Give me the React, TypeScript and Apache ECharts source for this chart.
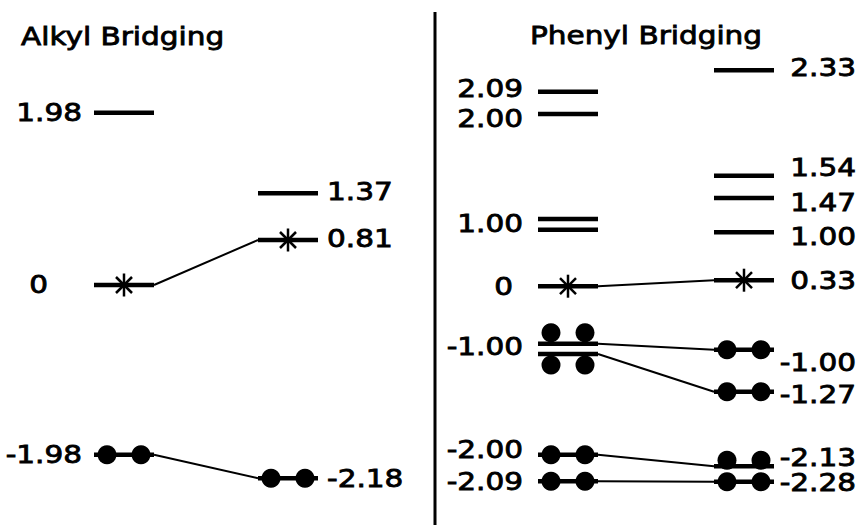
import React, { useEffect, useRef } from "react";
import * as echarts from "echarts";

// ---------- Alkyl bridging (left panel) ----------
const alkylLevelColumn = [0, 0, 0, 1, 1, 1];
const alkylLevelHeight = [2.87, 0, -2.83, 1.53, 0.75, -3.22];
const alkylLevelMarker = ["none", "star", "dots", "none", "star", "dots"];
const alkylLinks = [
  [1, 4],
  [2, 5],
];
const alkylLabelText = ["1.98", "0", "-1.98", "1.37", "0.81", "-2.18"];
const alkylLabelColumn = [0, 0, 0, 1, 1, 1];
const alkylLabelHeight = [2.87, 0, -2.83, 1.55, 0.78, -3.22];

// ---------- Phenyl bridging (right panel) ----------
const phenylLevelColumn = [0, 0, 0, 0, 0, 0, 0, 0, 0, 1, 1, 1, 1, 1, 1, 1, 1, 1];
const phenylLevelHeight = [
  3.22, 2.85, 1.1, 0.92, -0.02, -0.98, -1.15, -2.83, -3.27,
  3.58, 1.82, 1.45, 0.88, 0.08, -1.08, -1.78, -3.02, -3.28,
];
const phenylLevelMarker = [
  "none", "none", "none", "none", "star", "dotsAbove", "dotsBelow", "dots", "dots",
  "none", "none", "none", "none", "star", "dots", "dots", "dotsRaised", "dots",
];
const phenylLinks = [
  [4, 13],
  [5, 14],
  [6, 15],
  [7, 16],
  [8, 17],
];
const phenylLabelText = [
  "2.09", "2.00", "1.00", "0", "-1.00", "-2.00", "-2.09",
  "2.33", "1.54", "1.47", "1.00", "0.33", "-1.00", "-1.27", "-2.13", "-2.28",
];
const phenylLabelColumn = [0, 0, 0, 0, 0, 0, 0, 1, 1, 1, 1, 1, 1, 1, 1, 1];
const phenylLabelHeight = [
  3.28, 2.78, 1.03, -0.03, -1.02, -2.75, -3.27,
  3.63, 1.95, 1.38, 0.8, 0.07, -1.3, -1.83, -2.87, -3.3,
];

const panelTitles = ["Alkyl Bridging", "Phenyl Bridging"];

// ---------- styles ----------
const INK = "#000";
const HALF = 30; // half width of a level bar (px)
const FONT = '24px "DejaVu Sans"';
const TEXT_SCALE = 1.23;
const TEXT_STROKE = 0.8;
const DOT_R = 9.5;
const DOT_DX = 17;
const dotShift: Record<string, number> = { dots: 0, dotsAbove: -11, dotsBelow: 11, dotsRaised: -6 };

function levelRenderer(markers: string[]) {
  return (params: any, api: any) => {
    const p = api.coord([api.value(0), api.value(1)]);
    const cx = p[0];
    const cy = p[1];
    const children: any[] = [
      {
        type: "line",
        shape: { x1: cx - HALF, y1: cy, x2: cx + HALF, y2: cy },
        style: { stroke: INK, lineWidth: 4.5 },
      },
    ];
    const m = markers[params.dataIndex];
    if (m === "star") {
      const r = 11.5;
      const d = 8;
      children.push(
        { type: "line", shape: { x1: cx, y1: cy - r, x2: cx, y2: cy + r }, style: { stroke: INK, lineWidth: 2.5 } },
        { type: "line", shape: { x1: cx - r, y1: cy, x2: cx + r, y2: cy }, style: { stroke: INK, lineWidth: 2.5 } },
        { type: "line", shape: { x1: cx - d, y1: cy - d, x2: cx + d, y2: cy + d }, style: { stroke: INK, lineWidth: 2.5 } },
        { type: "line", shape: { x1: cx - d, y1: cy + d, x2: cx + d, y2: cy - d }, style: { stroke: INK, lineWidth: 2.5 } }
      );
    } else if (m in dotShift) {
      const dy = dotShift[m];
      children.push(
        { type: "circle", shape: { cx: cx - DOT_DX, cy: cy + dy, r: DOT_R }, style: { fill: INK } },
        { type: "circle", shape: { cx: cx + DOT_DX, cy: cy + dy, r: DOT_R }, style: { fill: INK } }
      );
    }
    return { type: "group", children };
  };
}

function linkRenderer() {
  return (_params: any, api: any) => {
    const a = api.coord([api.value(0), api.value(1)]);
    const b = api.coord([api.value(2), api.value(3)]);
    return {
      type: "line",
      shape: { x1: a[0] + HALF, y1: a[1], x2: b[0] - HALF, y2: b[1] },
      style: { stroke: INK, lineWidth: 2 },
    };
  };
}

function labelRenderer(
  texts: string[],
  leftGap: number,
  zeroGap: number,
  rightAlign: "left" | "right",
  rightGap: number
) {
  return (params: any, api: any) => {
    const p = api.coord([api.value(0), api.value(1)]);
    const text = texts[params.dataIndex];
    const col = api.value(0);
    let x: number;
    let align: string;
    if (col === 0) {
      x = p[0] - HALF - (text === "0" ? zeroGap : leftGap);
      align = "right";
    } else {
      x = p[0] + HALF + rightGap;
      align = rightAlign;
    }
    return {
      type: "text",
      x,
      y: p[1],
      scaleX: TEXT_SCALE,
      style: {
        text,
        fill: INK,
        stroke: INK,
        lineWidth: TEXT_STROKE,
        font: FONT,
        align,
        verticalAlign: "middle",
        textAlign: align,
        textVerticalAlign: "middle",
      },
    };
  };
}

export default function App() {
  const ref = useRef<HTMLDivElement>(null);

  useEffect(() => {
    document.body.style.margin = "0";
    if (!ref.current) return;
    const chart = echarts.init(ref.current, null, { renderer: "svg" });

    const yAxisBase = { type: "value", min: -4, max: 4.75, show: false };
    const titleStyle = {
      fill: INK,
      stroke: INK,
      lineWidth: TEXT_STROKE,
      font: FONT,
      textAlign: "left",
      textVerticalAlign: "middle",
    };

    const option: any = {
      animation: false,
      backgroundColor: "#fff",
      grid: [
        { left: 124, width: 164, top: 0, height: 525 },
        { left: 568, width: 176, top: 0, height: 525 },
      ],
      xAxis: [
        { type: "value", min: 0, max: 1, show: false, gridIndex: 0 },
        { type: "value", min: 0, max: 1, show: false, gridIndex: 1 },
      ],
      yAxis: [
        { ...yAxisBase, gridIndex: 0 },
        { ...yAxisBase, gridIndex: 1 },
      ],
      graphic: [
        {
          type: "line",
          shape: { x1: 435, y1: 12, x2: 435, y2: 525 },
          style: { stroke: INK, lineWidth: 3 },
        },
        {
          type: "text",
          x: 21,
          y: 37,
          scaleX: TEXT_SCALE,
          style: { ...titleStyle, text: panelTitles[0] },
        },
        {
          type: "text",
          x: 530,
          y: 36,
          scaleX: TEXT_SCALE,
          style: { ...titleStyle, text: panelTitles[1] },
        },
      ],
      series: [
        {
          type: "custom",
          xAxisIndex: 0,
          yAxisIndex: 0,
          clip: false,
          data: alkylLinks.map(([a, b]) => [
            alkylLevelColumn[a], alkylLevelHeight[a], alkylLevelColumn[b], alkylLevelHeight[b],
          ]),
          encode: { x: [0, 2], y: [1, 3] },
          renderItem: linkRenderer(),
        },
        {
          type: "custom",
          xAxisIndex: 0,
          yAxisIndex: 0,
          clip: false,
          data: alkylLevelColumn.map((c, i) => [c, alkylLevelHeight[i]]),
          renderItem: levelRenderer(alkylLevelMarker),
        },
        {
          type: "custom",
          xAxisIndex: 0,
          yAxisIndex: 0,
          clip: false,
          data: alkylLabelColumn.map((c, i) => [c, alkylLabelHeight[i]]),
          renderItem: labelRenderer(alkylLabelText, 12, 46, "left", 9),
        },
        {
          type: "custom",
          xAxisIndex: 1,
          yAxisIndex: 1,
          clip: false,
          data: phenylLinks.map(([a, b]) => [
            phenylLevelColumn[a], phenylLevelHeight[a], phenylLevelColumn[b], phenylLevelHeight[b],
          ]),
          encode: { x: [0, 2], y: [1, 3] },
          renderItem: linkRenderer(),
        },
        {
          type: "custom",
          xAxisIndex: 1,
          yAxisIndex: 1,
          clip: false,
          data: phenylLevelColumn.map((c, i) => [c, phenylLevelHeight[i]]),
          renderItem: levelRenderer(phenylLevelMarker),
        },
        {
          type: "custom",
          xAxisIndex: 1,
          yAxisIndex: 1,
          clip: false,
          data: phenylLabelColumn.map((c, i) => [c, phenylLabelHeight[i]]),
          renderItem: labelRenderer(phenylLabelText, 15, 25, "right", 82),
        },
      ],
    };

    chart.setOption(option);
    return () => chart.dispose();
  }, []);

  return <div ref={ref} style={{ width: 863, height: 525 }} />;
}
